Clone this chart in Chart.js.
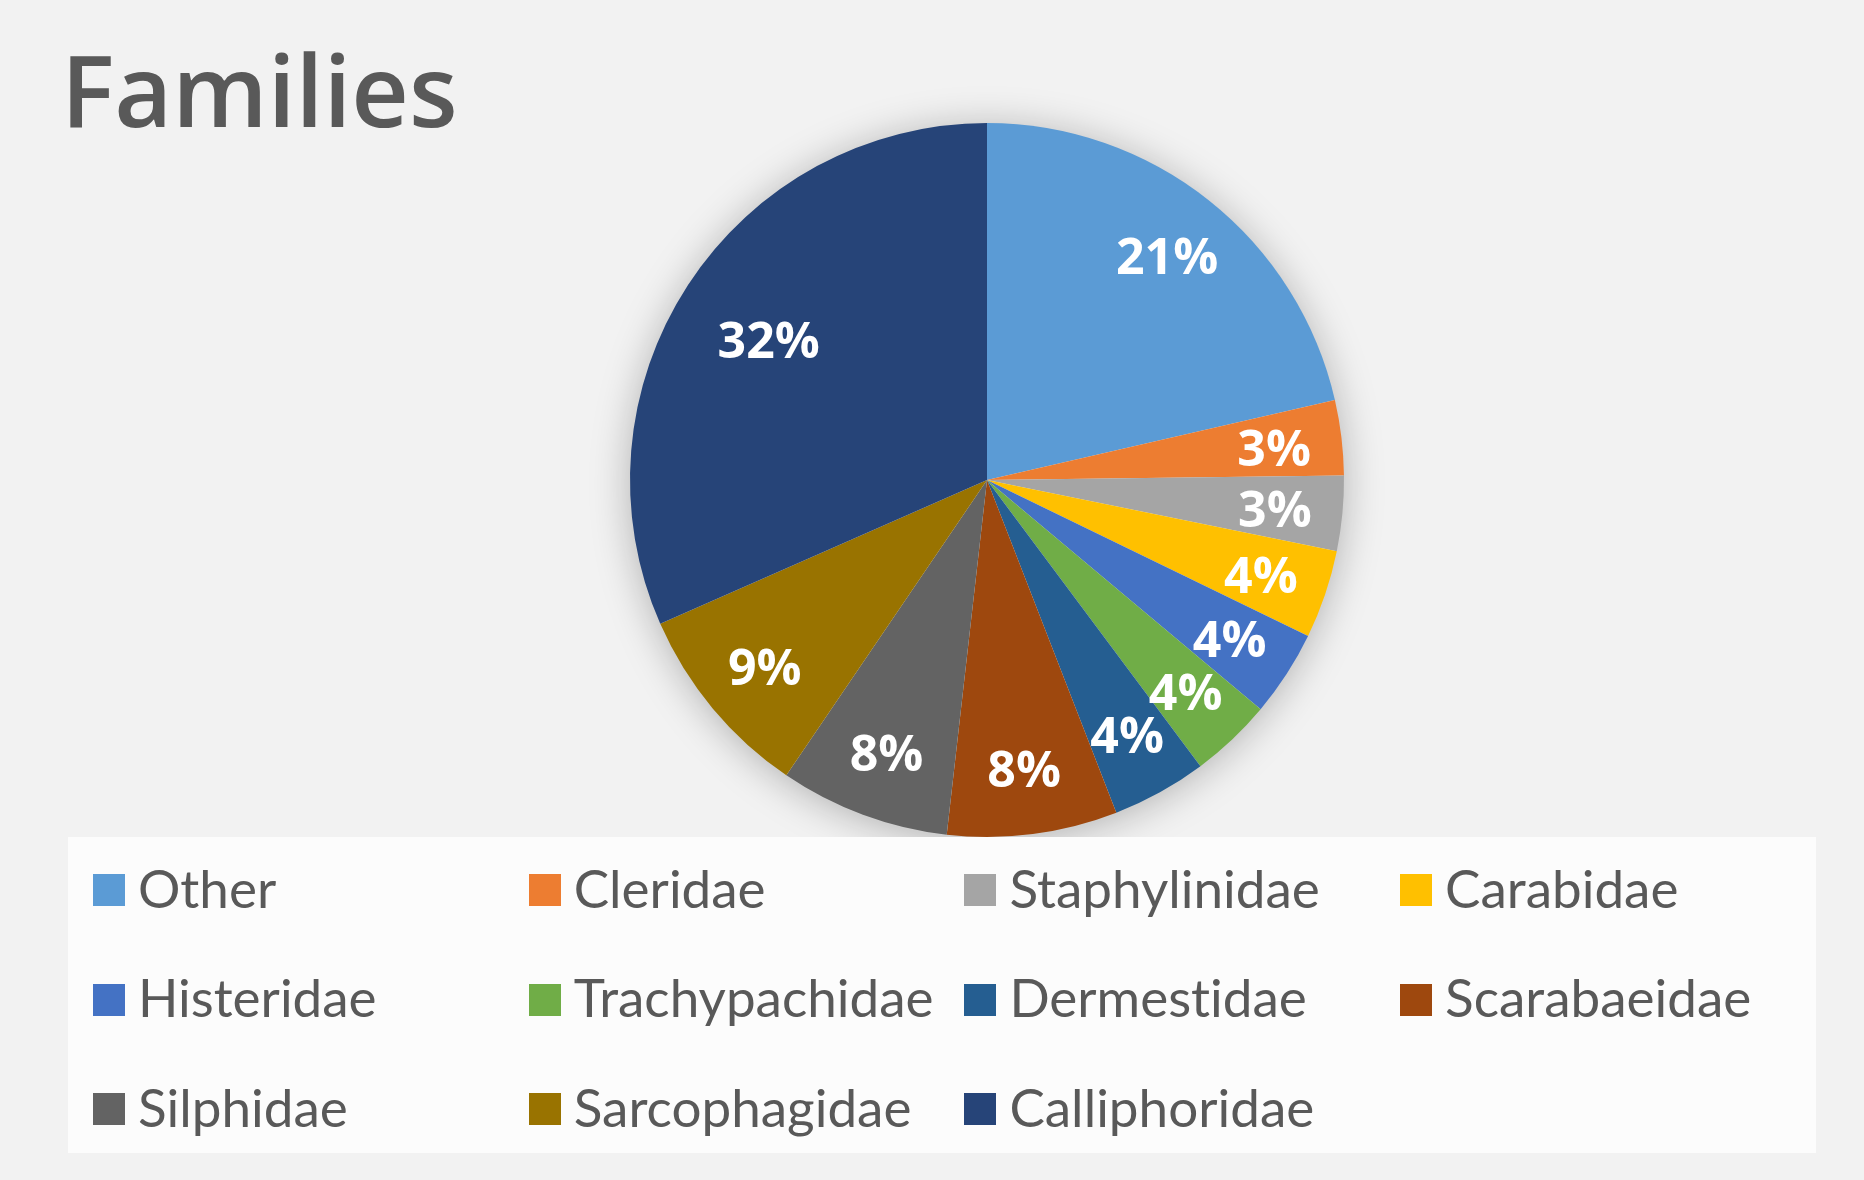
<!DOCTYPE html>
<html>
<head>
<meta charset="utf-8">
<script src="https://cdn.jsdelivr.net/npm/chart.js@4.4.1/dist/chart.umd.min.js"></script>
<style>
  body { margin: 0; background: #f2f2f2; }
  #wrap { position: relative; width: 1864px; height: 1180px; overflow: hidden; }
  #title {
    position: absolute; left: 61px; top: 38px;
    font: 600 100px "Open Sans", sans-serif; line-height: 100px; color: #595959;
  }
  #pie { position: absolute; left: 0; top: 0; }
  #legend {
    position: absolute; left: 68px; top: 837px; width: 1748px; height: 316px;
    background: #fcfcfc; box-sizing: border-box; padding: 10px 0 0 25px;
    display: grid; grid-template-columns: repeat(4, 435.7px); grid-auto-rows: 80px; row-gap: 29.5px;
  }
  .item { display: flex; align-items: center; font: 400 53px Lato, sans-serif; color: #595959;
    white-space: nowrap; font-variant-ligatures: none; }
  .sw { width: 32px; height: 32px; margin-right: 13px; flex: none; position: relative; top: 3px; }
</style>
</head>
<body>
<div id="wrap">
  <div id="title">Families</div>
  <canvas id="pie" width="1864" height="1180"></canvas>
  <div id="legend"></div>
</div>
<script>
// families and their share of the catch (%)
const families = ['Other', 'Cleridae', 'Staphylinidae', 'Carabidae', 'Histeridae', 'Trachypachidae',
  'Dermestidae', 'Scarabaeidae', 'Silphidae', 'Sarcophagidae', 'Calliphoridae'];
const shares = [21.4, 3.4, 3.4, 4.0, 3.9, 3.7, 4.3, 7.7, 7.7, 8.9, 31.6];
const colours = ['#5b9bd5', '#ed7d31', '#a5a5a5', '#ffc000', '#4472c4', '#70ad47',
  '#255e91', '#9e480e', '#636363', '#997300', '#264478'];

// soft shadow behind the pie
const pieShadow = {
  id: 'pieShadow',
  beforeDatasetsDraw(chart) {
    const arc = chart.getDatasetMeta(0).data[0];
    if (!arc) return;
    const ctx = chart.ctx;
    ctx.save();
    ctx.shadowColor = 'rgba(0,0,0,0.28)';
    ctx.shadowBlur = 40;
    ctx.shadowOffsetY = 4;
    ctx.fillStyle = '#f2f2f2';
    ctx.beginPath();
    ctx.arc(arc.x, arc.y, arc.outerRadius - 1, 0, Math.PI * 2);
    ctx.fill();
    ctx.restore();
  }
};

// percentage labels inside the slices
const sliceLabels = {
  id: 'sliceLabels',
  afterDatasetsDraw(chart) {
    const ctx = chart.ctx;
    const data = chart.data.datasets[0].data;
    const total = data.reduce((a, b) => a + b, 0);
    ctx.save();
    ctx.fillStyle = '#ffffff';
    ctx.font = '700 50px "Open Sans", sans-serif';
    ctx.textAlign = 'center';
    ctx.textBaseline = 'middle';
    chart.getDatasetMeta(0).data.forEach((arc, i) => {
      const pct = data[i] / total * 100;
      const mid = (arc.startAngle + arc.endAngle) / 2;
      const r = arc.outerRadius * (pct > 25 ? 0.73 : 0.81);
      ctx.fillText(Math.round(pct) + '%', arc.x + Math.cos(mid) * r, arc.y + Math.sin(mid) * r + 6);
    });
    ctx.restore();
  }
};

const chart = new Chart(document.getElementById('pie'), {
  type: 'pie',
  data: {
    labels: families,
    datasets: [{ data: shares, backgroundColor: colours, borderWidth: 0 }]
  },
  options: {
    responsive: false,
    animation: false,
    layout: { padding: { left: 630, right: 520, top: 123, bottom: 343 } },
    plugins: { legend: { display: false }, title: { display: false }, tooltip: { enabled: false } }
  },
  plugins: [pieShadow, sliceLabels]
});

// legend in a four-column grid
const legendBox = document.getElementById('legend');
Chart.overrides.pie.plugins.legend.labels.generateLabels(chart).forEach(item => {
  const el = document.createElement('div');
  el.className = 'item';
  el.innerHTML = '<span class="sw" style="background:' + item.fillStyle + '"></span>' + item.text;
  legendBox.appendChild(el);
});
</script>
</body>
</html>
